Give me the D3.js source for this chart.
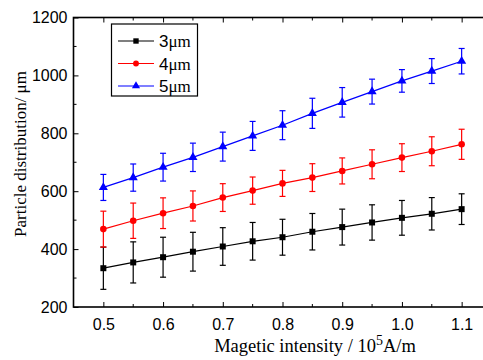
<!DOCTYPE html>
<html>
<head>
<meta charset="utf-8">
<script src="https://cdn.jsdelivr.net/npm/d3@7"></script>
<style>
  body { margin: 0; background: #fff; }
  svg { display: block; }
</style>
</head>
<body>
<div id="chart"></div>
<script>
// --- Data ---
const fieldValues = [0.5, 0.55, 0.6, 0.65, 0.7, 0.75, 0.8, 0.85, 0.9, 0.95, 1.0, 1.05, 1.1];

const size3 = [334, 354, 372, 391, 409, 427, 441, 460, 476, 492, 508, 522, 538];
const err3  = [73, 71, 69, 67, 65, 65, 62, 63, 62, 61, 60, 56, 53];

const size4 = [469, 498, 524, 549, 578, 602, 627, 647, 670, 693, 716, 738, 762];
const err4  = [62, 61, 53, 52, 48, 47, 45, 48, 45, 50, 48, 50, 52];

const size5 = [613, 647, 683, 717, 754, 791, 828, 869, 907, 944, 981, 1015, 1049];
const err5  = [45, 47, 48, 49, 50, 50, 50, 52, 51, 43, 39, 43, 44];

const xTicks = [0.5, 0.6, 0.7, 0.8, 0.9, 1.0, 1.1];
const yTicks = [200, 400, 600, 800, 1000, 1200];

const seriesList = [
  {name: '3', values: size3, errors: err3, color: '#000000', symbol: d3.symbolSquare, symSize: 36},
  {name: '4', values: size4, errors: err4, color: '#ff0000', symbol: d3.symbolCircle, symSize: 34},
  {name: '5', values: size5, errors: err5, color: '#0000ff', symbol: d3.symbolTriangle, symSize: 36}
];

// --- Chart ---
const width = 483, height = 360;
const svg = d3.select('#chart').append('svg')
  .attr('width', width)
  .attr('height', height);

const x = d3.scaleLinear().domain([0.45, 1.15]).range([73.5, 491.5]);
const y = d3.scaleLinear().domain([200, 1200]).range([307, 17.5]);

const tickFont = '"Liberation Sans", Arial, sans-serif';
const serifFont = '"Liberation Serif", "Times New Roman", serif';

// minor ticks
const xMinor = d3.range(0.55, 1.15, 0.1);
const yMinor = d3.range(300, 1200, 200);

// bottom axis
const xAxisG = svg.append('g')
  .attr('transform', `translate(0,${y.range()[0]})`)
  .call(d3.axisBottom(x).tickValues(xTicks).tickFormat(d3.format('.1f')).tickSize(-5).tickSizeOuter(0));
xAxisG.selectAll('text')
  .attr('y', 12)
  .attr('font-family', tickFont)
  .attr('font-size', 16)
  .attr('fill', '#000');
xAxisG.append('g').selectAll('line')
  .data(xMinor)
  .join('line')
  .attr('x1', d => x(d)).attr('x2', d => x(d))
  .attr('y1', 0).attr('y2', -3)
  .attr('stroke', '#000');

// top axis (mirror ticks)
const xTopG = svg.append('g')
  .attr('transform', `translate(0,${y.range()[1]})`)
  .call(d3.axisTop(x).tickValues(xTicks).tickFormat('').tickSize(-5).tickSizeOuter(0));
xTopG.append('g').selectAll('line')
  .data(xMinor)
  .join('line')
  .attr('x1', d => x(d)).attr('x2', d => x(d))
  .attr('y1', 0).attr('y2', 3)
  .attr('stroke', '#000');

// left axis
const yAxisG = svg.append('g')
  .attr('transform', `translate(${x.range()[0]},0)`)
  .call(d3.axisLeft(y).tickValues(yTicks).tickFormat(d3.format('d')).tickSize(-5).tickSizeOuter(0));
yAxisG.selectAll('text')
  .attr('x', -6)
  .attr('font-family', tickFont)
  .attr('font-size', 16)
  .attr('fill', '#000');
yAxisG.append('g').selectAll('line')
  .data(yMinor)
  .join('line')
  .attr('x1', 0).attr('x2', 3)
  .attr('y1', d => y(d)).attr('y2', d => y(d))
  .attr('stroke', '#000');

svg.selectAll('.domain').attr('stroke', 'none');

// frame
svg.append('rect')
  .attr('x', x.range()[0])
  .attr('y', y.range()[1])
  .attr('width', x.range()[1] - x.range()[0])
  .attr('height', y.range()[0] - y.range()[1])
  .attr('fill', 'none')
  .attr('stroke', '#000')
  .attr('stroke-width', 1.6);

// series
const line = d3.line()
  .x((d, i) => x(fieldValues[i]))
  .y(d => y(d));

seriesList.forEach(s => {
  const g = svg.append('g');
  g.append('path')
    .datum(s.values)
    .attr('fill', 'none')
    .attr('stroke', s.color)
    .attr('stroke-width', 1.2)
    .attr('d', line);

  // error bars
  const eb = g.selectAll('.eb')
    .data(s.values.map((v, i) => ({x: fieldValues[i], v: v, e: s.errors[i]})))
    .join('g')
    .attr('stroke', s.color)
    .attr('stroke-width', 1.2);
  eb.append('line')
    .attr('x1', d => x(d.x)).attr('x2', d => x(d.x))
    .attr('y1', d => y(d.v + d.e)).attr('y2', d => y(d.v - d.e));
  eb.append('line')
    .attr('x1', d => x(d.x) - 3).attr('x2', d => x(d.x) + 3)
    .attr('y1', d => y(d.v + d.e)).attr('y2', d => y(d.v + d.e));
  eb.append('line')
    .attr('x1', d => x(d.x) - 3).attr('x2', d => x(d.x) + 3)
    .attr('y1', d => y(d.v - d.e)).attr('y2', d => y(d.v - d.e));

  g.selectAll('.pt')
    .data(s.values)
    .join('path')
    .attr('transform', (d, i) => `translate(${x(fieldValues[i])},${y(d)})`)
    .attr('d', d3.symbol().type(s.symbol).size(s.symSize))
    .attr('fill', s.color);
});

// legend
const lg = svg.append('g');
lg.append('rect')
  .attr('x', 111.5).attr('y', 24)
  .attr('width', 86).attr('height', 72)
  .attr('fill', '#fff')
  .attr('stroke', '#000')
  .attr('stroke-width', 1.2);
seriesList.forEach((s, i) => {
  const ly = 41 + i * 22.5;
  lg.append('line')
    .attr('x1', 118).attr('x2', 154)
    .attr('y1', ly).attr('y2', ly)
    .attr('stroke', s.color)
    .attr('stroke-width', 1.2);
  lg.append('path')
    .attr('transform', `translate(136,${ly})`)
    .attr('d', d3.symbol().type(s.symbol).size(s.symSize * 0.8))
    .attr('fill', s.color);
  const t = lg.append('text')
    .attr('x', 159)
    .attr('y', ly + 6)
    .attr('font-size', 17)
    .attr('fill', '#000');
  t.append('tspan').attr('font-family', tickFont).text(s.name);
  t.append('tspan').attr('font-family', serifFont).text('\u03bcm');
});

// axis titles
const xt = svg.append('text')
  .attr('x', 315)
  .attr('y', 352)
  .attr('text-anchor', 'middle')
  .attr('font-family', serifFont)
  .attr('font-size', 18.5)
  .attr('fill', '#000');
xt.append('tspan').text('Magetic intensity / 10');
xt.append('tspan').attr('dy', -7).attr('font-size', 14).text('5');
xt.append('tspan').attr('dy', 7).text('A/m');

svg.append('text')
  .attr('transform', 'translate(26,154) rotate(-90)')
  .attr('text-anchor', 'middle')
  .attr('font-family', serifFont)
  .attr('font-size', 17)
  .attr('fill', '#000')
  .text('Particle distribution/ \u03bcm');
</script>
</body>
</html>
